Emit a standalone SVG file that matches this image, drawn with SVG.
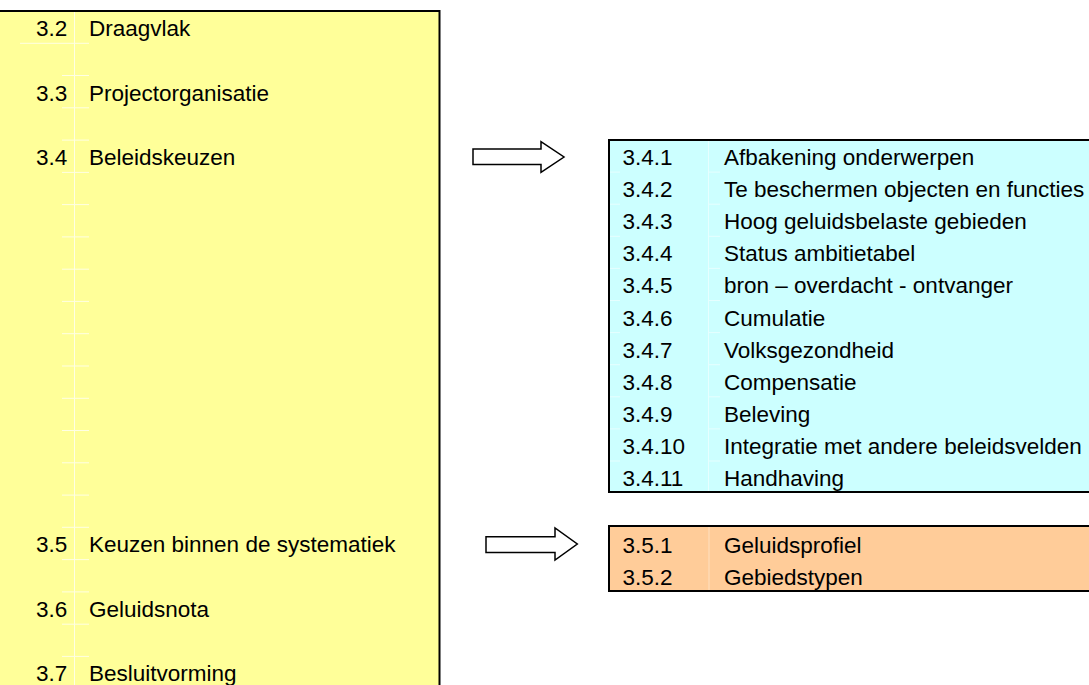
<svg xmlns="http://www.w3.org/2000/svg" width="1089" height="685" viewBox="0 0 1089 685">
<style>
text{font-family:"Liberation Sans",Arial,sans-serif;font-size:22.5px;fill:#000}
.box{stroke:#000;stroke-width:2}
.grid{stroke:#ffffe4;stroke-width:1;fill:none}
.gridc{stroke:#e6ffff;stroke-width:1;fill:none}
.arrow{fill:#fff;stroke:#000;stroke-width:1.5;stroke-linejoin:miter}
</style>
<rect width="1089" height="685" fill="#fff"/>
<g id="node-main">
<rect class="box" x="-10" y="11" width="449.5" height="700" fill="#ffff99"/>
<path class="grid" d="M74.5,12V685 M62,43.3H89 M62,75.5H89 M62,107.8H89 M62,140.1H89 M62,172.4H89 M62,204.6H89 M62,236.9H89 M62,269.2H89 M62,301.4H89 M62,333.7H89 M62,366H89 M62,398.3H89 M62,430.5H89 M62,462.8H89 M62,495.1H89 M62,527.3H89 M62,559.6H89 M62,591.9H89 M62,624.2H89 M62,656.4H89 M20,43.3H62"/>
<text x="36" y="36">3.2</text><text x="89" y="36">Draagvlak</text>
<text x="36" y="100.5">3.3</text><text x="89" y="100.5">Projectorganisatie</text>
<text x="36" y="165">3.4</text><text x="89" y="165">Beleidskeuzen</text>
<text x="36" y="552.3">3.5</text><text x="89" y="552.3">Keuzen binnen de systematiek</text>
<text x="36" y="616.9">3.6</text><text x="89" y="616.9">Geluidsnota</text>
<text x="36" y="681.4">3.7</text><text x="89" y="681.4">Besluitvorming</text>
</g>
<g id="node-34">
<rect class="box" x="609" y="140" width="500" height="352" fill="#ccffff"/>
<path class="gridc" d="M708.5,141V491 M610,172.1H620 M708,172.1H720 M610,204.2H620 M708,204.2H720 M610,236.3H620 M708,236.3H720 M610,268.4H620 M708,268.4H720 M610,300.5H620 M708,300.5H720 M610,332.6H620 M708,332.6H720 M610,364.7H620 M708,364.7H720 M610,396.8H620 M708,396.8H720 M610,428.9H620 M708,428.9H720 M610,461H620 M708,461H720"/>
<text x="622.5" y="165">3.4.1</text><text x="724" y="165">Afbakening onderwerpen</text>
<text x="622.5" y="197.1">3.4.2</text><text x="724" y="197.1">Te beschermen objecten en functies</text>
<text x="622.5" y="229.2">3.4.3</text><text x="724" y="229.2">Hoog geluidsbelaste gebieden</text>
<text x="622.5" y="261.3">3.4.4</text><text x="724" y="261.3">Status ambitietabel</text>
<text x="622.5" y="293.4">3.4.5</text><text x="724" y="293.4">bron – overdacht - ontvanger</text>
<text x="622.5" y="325.5">3.4.6</text><text x="724" y="325.5">Cumulatie</text>
<text x="622.5" y="357.6">3.4.7</text><text x="724" y="357.6">Volksgezondheid</text>
<text x="622.5" y="389.7">3.4.8</text><text x="724" y="389.7">Compensatie</text>
<text x="622.5" y="421.8">3.4.9</text><text x="724" y="421.8">Beleving</text>
<text x="622.5" y="453.9">3.4.10</text><text x="724" y="453.9">Integratie met andere beleidsvelden</text>
<text x="622.5" y="486">3.4.11</text><text x="724" y="486">Handhaving</text>
</g>
<g id="node-35">
<rect class="box" x="609" y="526" width="500" height="65" fill="#ffcc99"/>
<path d="M709,527V590" stroke="#ffe0c0" stroke-width="1"/>
<text x="622.5" y="552.6">3.5.1</text><text x="724" y="552.6">Geluidsprofiel</text>
<text x="622.5" y="584.8">3.5.2</text><text x="724" y="584.8">Gebiedstypen</text>
</g>
<g id="connectors">
<polygon class="arrow" points="473,149 541,149 541,141.7 564,157 541,172.3 541,164.5 473,164.5"/>
<polygon class="arrow" points="486,536.7 555,536.7 555,528 577.3,544 555,560 555,552.5 486,552.5"/>
</g>
</svg>
